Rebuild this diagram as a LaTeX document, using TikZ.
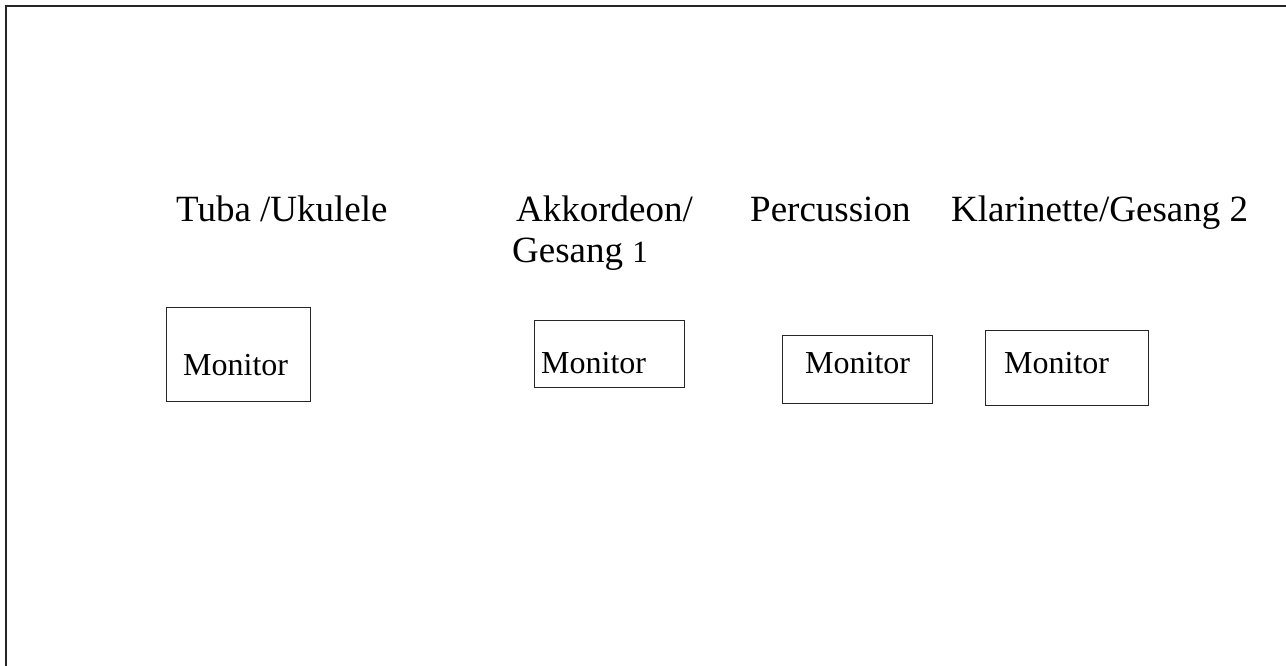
\documentclass[tikz,border=0pt]{standalone}
\usepackage{fontspec}
\setmainfont{Liberation Serif}
\tikzset{
  frameline/.style={line width=1.8pt, black!85},
  monbox/.style={draw, line width=1pt, black!85, inner sep=0pt},
  lbl/.style={anchor=base west, inner sep=0pt, font=\fontsize{37}{44}\selectfont},
  montxt/.style={anchor=base west, inner sep=0pt, font=\fontsize{32}{38}\selectfont},
}
\begin{document}
\begin{tikzpicture}[x=1pt,y=-1pt]
\useasboundingbox (0,0) rectangle (1286,666);
\coordinate (tl) at (6,6);
\coordinate (tr) at (1286,6);
\coordinate (bl) at (6,666);
\draw[frameline] (tr) -- (tl) -- (bl);
% labels
\node[lbl] (tuba) at (176,222) {Tuba /Ukulele};
\node[lbl] (akk) at (516,222) {Akkordeon/};
\node[lbl] (ges1) at (512,262) {Gesang {\fontsize{31}{38}\selectfont 1}};
\node[lbl] (perc) at (750,222) {Percussion};
\node[lbl] (klar) at (951,222) {Klarinette/Gesang 2};
% boxes
\node[monbox, minimum width=144pt, minimum height=94pt] (b1) at (238,354) {};
\node[monbox, minimum width=150pt, minimum height=67pt] (b2) at (609,353.5) {};
\node[monbox, minimum width=150pt, minimum height=68pt] (b3) at (857,369) {};
\node[monbox, minimum width=163pt, minimum height=75pt] (b4) at (1066.5,367.5) {};
\node[montxt] (m1) at (183,375) {Monitor};
\node[montxt] (m2) at (541,373) {Monitor};
\node[montxt] (m3) at (805,373) {Monitor};
\node[montxt] (m4) at (1004,373) {Monitor};
\end{tikzpicture}
\end{document}
